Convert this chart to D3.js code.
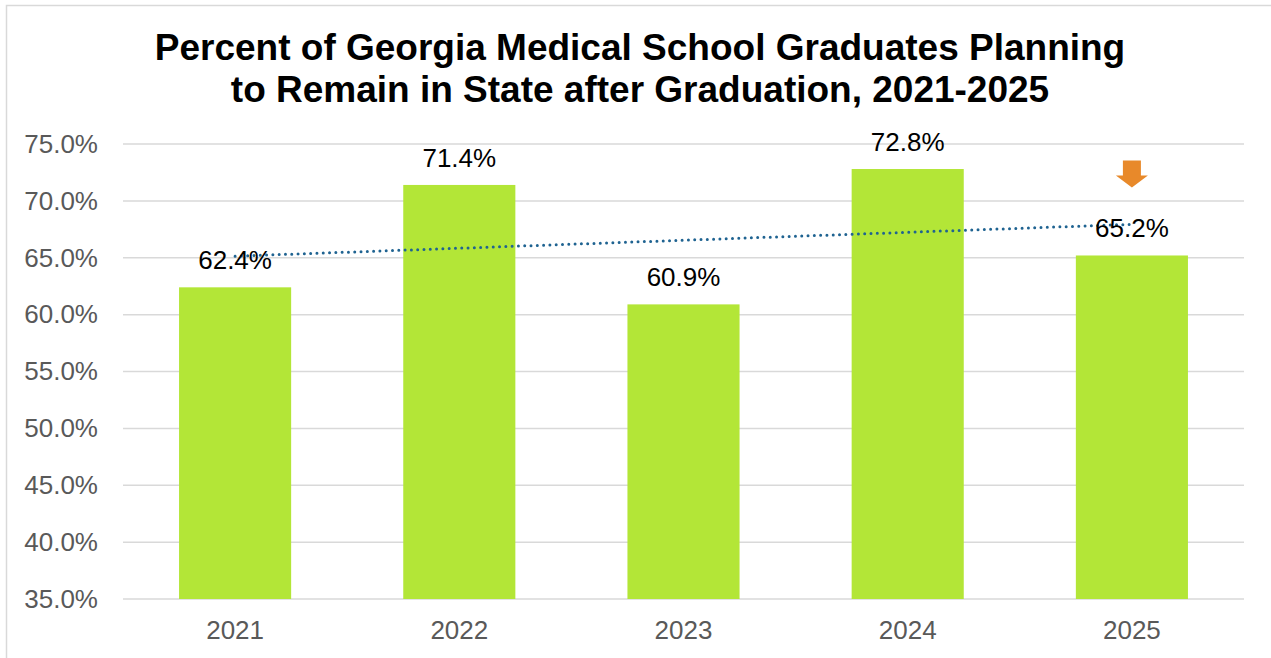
<!DOCTYPE html>
<html><head><meta charset="utf-8">
<script src="https://cdn.jsdelivr.net/npm/d3@7"></script>
<style>html,body{margin:0;padding:0;background:#fff;}svg{display:block;}</style>
</head><body>
<svg id="chart" width="1271" height="658"></svg>
<script>
const titleLines = ["Percent of Georgia Medical School Graduates Planning", "to Remain in State after Graduation, 2021-2025"];
const years = ["2021", "2022", "2023", "2024", "2025"];
const values = [62.4, 71.4, 60.9, 72.8, 65.2];
const yTicks = [35, 40, 45, 50, 55, 60, 65, 70, 75];

const svg = d3.select("#chart");
const plot = {left: 123, right: 1244, top: 144, bottom: 599};
const FONT = "Liberation Sans, Arial, sans-serif";

// frame (only top and left visible)
svg.append("rect").attr("x", 6.5).attr("y", 5.5).attr("width", 1300).attr("height", 700)
  .attr("fill", "#fff").attr("stroke", "#d9d9d9").attr("stroke-width", 1.5);

const x = d3.scaleBand().domain(years).range([plot.left, plot.right]).paddingInner(0.5).paddingOuter(0.25);
const y = d3.scaleLinear().domain([35, 75]).range([plot.bottom, plot.top]);

// gridlines
svg.append("g").selectAll("line").data(yTicks).join("line")
  .attr("x1", plot.left).attr("x2", plot.right)
  .attr("y1", d => y(d)).attr("y2", d => y(d))
  .attr("stroke", "#d9d9d9").attr("stroke-width", 1.5);

// y axis
const yAxis = d3.axisLeft(y).tickValues(yTicks).tickFormat(d => d.toFixed(1) + "%").tickSize(0).tickPadding(25);
const gy = svg.append("g").attr("transform", `translate(${plot.left},0)`).call(yAxis);
gy.select(".domain").remove();
gy.selectAll("text").attr("font-family", FONT).attr("font-size", 26).attr("fill", "#595959");

// x axis
const xAxis = d3.axisBottom(x).tickSize(0).tickPadding(21.5);
const gx = svg.append("g").attr("transform", `translate(0,${plot.bottom})`).call(xAxis);
gx.select(".domain").remove();
gx.selectAll("text").attr("font-family", FONT).attr("font-size", 26).attr("fill", "#595959");

// bars
svg.append("g").selectAll("rect").data(values).join("rect")
  .attr("x", (d, i) => x(years[i])).attr("width", x.bandwidth())
  .attr("y", d => y(d)).attr("height", d => y(35) - y(d))
  .attr("fill", "#b3e637");

// linear trendline
const n = values.length;
const xs = values.map((d, i) => i + 1);
const mx = d3.mean(xs), my = d3.mean(values);
const slope = d3.sum(xs.map((xi, i) => (xi - mx) * (values[i] - my))) / d3.sum(xs.map(xi => (xi - mx) ** 2));
const icpt = my - slope * mx;
const cx = i => x(years[i]) + x.bandwidth() / 2;
svg.append("line")
  .attr("x1", cx(0)).attr("y1", y(icpt + slope * 1))
  .attr("x2", cx(n - 1)).attr("y2", y(icpt + slope * n))
  .attr("stroke", "#1f6391").attr("stroke-width", 3)
  .attr("stroke-dasharray", "0 6.3").attr("stroke-linecap", "round");

// data labels
svg.append("g").selectAll("text").data(values).join("text")
  .attr("x", (d, i) => cx(i)).attr("y", d => y(d) - 18.3)
  .attr("text-anchor", "middle")
  .attr("font-family", FONT).attr("font-size", 26).attr("fill", "#000")
  .text(d => d.toFixed(1) + "%");

// arrow above last bar
const ax = cx(n - 1);
const ay = y(values[n - 1]);
const arrow = d3.path();
arrow.moveTo(ax - 9, ay - 95);
arrow.lineTo(ax + 9, ay - 95);
arrow.lineTo(ax + 9, ay - 80);
arrow.lineTo(ax + 16, ay - 80);
arrow.lineTo(ax, ay - 68);
arrow.lineTo(ax - 16, ay - 80);
arrow.lineTo(ax - 9, ay - 80);
arrow.closePath();
svg.append("path").attr("d", arrow.toString()).attr("fill", "#e8892a");

// title
svg.append("g").selectAll("text").data(titleLines).join("text")
  .attr("x", 640).attr("y", (d, i) => 60 + i * 42)
  .attr("text-anchor", "middle")
  .attr("font-family", FONT).attr("font-weight", "bold")
  .attr("font-size", 37).attr("fill", "#000")
  .text(d => d);
</script>
</body></html>
